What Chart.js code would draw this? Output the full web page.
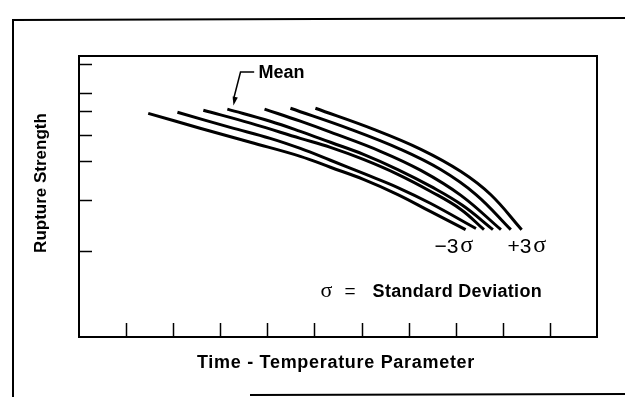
<!DOCTYPE html>
<html>
<head>
<meta charset="utf-8">
<script src="https://cdn.jsdelivr.net/npm/chart.js@4.4.0/dist/chart.umd.min.js"></script>
<style>
  html, body { margin: 0; padding: 0; background: #fff; }
  canvas { display: block; }
</style>
</head>
<body>
<canvas id="chart" width="625" height="397"></canvas>
<script>
// curves from -3 sigma (left) to +3 sigma (right)
const curveNames = ["-3σ", "-2σ", "-1σ", "Mean", "+1σ", "+2σ", "+3σ"];
const c1x = [1.47, 2.57, 3.64, 4.70, 5.34, 6.04, 6.77, 7.47, 8.21];
const c1y = [79.6, 74.3, 69.3, 64.3, 60.4, 56.1, 50.7, 44.6, 38.2];
const c2x = [2.09, 3.21, 4.06, 4.70, 5.34, 6.04, 6.77, 7.47, 8.43];
const c2y = [80.0, 74.6, 70.7, 67.1, 62.9, 58.2, 53.2, 47.5, 38.6];
const c3x = [2.64, 3.64, 4.70, 5.34, 6.04, 6.77, 7.47, 8.11, 8.60];
const c3y = [80.7, 76.1, 70.7, 67.5, 63.2, 57.9, 51.8, 45.4, 38.2];
const c4x = [3.15, 4.06, 4.70, 5.34, 6.04, 6.77, 7.47, 8.15, 8.79];
const c4y = [81.1, 76.8, 73.2, 69.3, 65.0, 59.6, 53.6, 46.8, 38.2];
const c5x = [3.94, 4.70, 5.34, 6.40, 7.26, 8.11, 8.96];
const c5y = [81.1, 76.8, 72.9, 66.1, 59.3, 50.4, 38.2];
const c6x = [4.49, 5.77, 6.83, 7.68, 8.43, 9.17];
const c6y = [81.4, 73.9, 66.8, 59.6, 50.7, 38.2];
const c7x = [5.02, 6.26, 7.26, 8.11, 8.74, 9.40];
const c7y = [81.4, 73.9, 66.8, 58.9, 50.7, 38.2];

// tick marks (no labels in the original)
const xTicks = [1, 2, 3, 4, 5, 6, 7, 8, 9, 10];
const yTicks = [30.7, 48.9, 62.5, 71.8, 80.4, 86.8, 97.1];

const curvesX = [c1x, c2x, c3x, c4x, c5x, c6x, c7x];
const curvesY = [c1y, c2y, c3y, c4y, c5y, c6y, c7y];

const SANS = '"Liberation Sans", Arial, sans-serif';
const SERIF = '"Liberation Serif", "Times New Roman", serif';

const decorPlugin = {
    id: "decor",
    beforeDraw(chart) {
        const ctx = chart.ctx;
        ctx.save();
        ctx.fillStyle = "#fff";
        ctx.fillRect(0, 0, chart.width, chart.height);
        ctx.restore();
    },
    afterDraw(chart) {
        const ctx = chart.ctx;
        const a = chart.chartArea;
        const xs = chart.scales.x, ys = chart.scales.y;
        ctx.save();
        ctx.strokeStyle = "#000";
        ctx.lineCap = "butt";

        // outer frame
        ctx.lineWidth = 2;
        ctx.beginPath();
        ctx.moveTo(13, 397);
        ctx.lineTo(13, 20);
        ctx.lineTo(625, 18);
        ctx.stroke();
        ctx.beginPath();
        ctx.moveTo(250, 395);
        ctx.lineTo(625, 394);
        ctx.stroke();

        // plot box
        ctx.lineWidth = 2;
        ctx.strokeRect(a.left, a.top, a.right - a.left, a.bottom - a.top);

        // inward ticks
        ctx.lineWidth = 1.5;
        xTicks.forEach(v => {
            const px = Math.round(xs.getPixelForValue(v)) + 0.5;
            ctx.beginPath();
            ctx.moveTo(px, a.bottom);
            ctx.lineTo(px, a.bottom - 14);
            ctx.stroke();
        });
        yTicks.forEach(v => {
            const py = Math.round(ys.getPixelForValue(v)) + 0.5;
            ctx.beginPath();
            ctx.moveTo(a.left, py);
            ctx.lineTo(a.left + 13, py);
            ctx.stroke();
        });

        // Mean label with arrow
        const mx = xs.getPixelForValue(3.81), my = ys.getPixelForValue(93.9);
        ctx.fillStyle = "#000";
        ctx.font = "bold 18px " + SANS;
        ctx.textBaseline = "middle";
        ctx.textAlign = "left";
        ctx.fillText("Mean", mx, my);
        const s0x = xs.getPixelForValue(3.72), s1x = xs.getPixelForValue(3.43);
        const sy = ys.getPixelForValue(94.3);
        const tipx = xs.getPixelForValue(3.28), tipy = ys.getPixelForValue(82.4);
        ctx.lineWidth = 1.5;
        ctx.beginPath();
        ctx.moveTo(s0x, sy);
        ctx.lineTo(s1x, sy);
        ctx.lineTo(tipx, tipy - 6);
        ctx.stroke();
        const ang = Math.atan2(tipy - sy, tipx - s1x);
        ctx.beginPath();
        ctx.moveTo(tipx, tipy);
        ctx.lineTo(tipx - 9 * Math.cos(ang - 0.3), tipy - 9 * Math.sin(ang - 0.3));
        ctx.lineTo(tipx - 9 * Math.cos(ang + 0.3), tipy - 9 * Math.sin(ang + 0.3));
        ctx.closePath();
        ctx.fill();

        // sigma labels
        function sigmaLabel(txt, cx, cy) {
            ctx.font = "21px " + SANS;
            const w1 = ctx.measureText(txt).width + 2;
            ctx.font = "24px " + SERIF;
            const w2 = ctx.measureText("σ").width;
            let x0 = cx - (w1 + w2) / 2;
            ctx.textAlign = "left";
            ctx.font = "21px " + SANS;
            ctx.fillText(txt, x0, cy);
            ctx.font = "24px " + SERIF;
            ctx.fillText("σ", x0 + w1, cy - 1);
        }
        sigmaLabel("\u22123", xs.getPixelForValue(7.96), ys.getPixelForValue(32.1));
        sigmaLabel("+3", xs.getPixelForValue(9.51), ys.getPixelForValue(32.1));

        // legend note
        const nx = xs.getPixelForValue(5.13), ny = ys.getPixelForValue(16.1);
        ctx.font = "22px " + SERIF;
        ctx.fillText("σ", nx, ny - 1);
        ctx.font = "19px " + SANS;
        ctx.fillText("=", nx + 24, ny);
        ctx.font = "bold 18px " + SANS;
        ctx.letterSpacing = "0.3px";
        ctx.fillText("Standard Deviation", nx + 52, ny);

        // axis titles
        ctx.textAlign = "center";
        ctx.font = "bold 18px " + SANS;
        ctx.letterSpacing = "0.7px";
        ctx.fillText("Time - Temperature Parameter", 336, 363);
        ctx.letterSpacing = "0px";
        ctx.font = "bold 17px " + SANS;
        ctx.save();
        ctx.translate(41, 183);
        ctx.rotate(-Math.PI / 2);
        ctx.fillText("Rupture Strength", 0, 0);
        ctx.restore();

        ctx.restore();
    }
};

new Chart(document.getElementById("chart"), {
    type: "line",
    data: {
        datasets: curvesX.map((xsArr, i) => ({
            label: curveNames[i],
            data: xsArr.map((x, j) => ({ x: x, y: curvesY[i][j] })),
            borderColor: "#000",
            borderWidth: 3,
            pointRadius: 0,
            tension: 0.4,
            fill: false
        }))
    },
    options: {
        responsive: false,
        animation: false,
        layout: { padding: { left: 79, top: 56, right: 28, bottom: 60 } },
        plugins: {
            legend: { display: false },
            tooltip: { enabled: false }
        },
        scales: {
            x: { type: "linear", min: 0, max: 11, display: false },
            y: { type: "linear", min: 0, max: 100, display: false }
        }
    },
    plugins: [decorPlugin]
});
</script>
</body>
</html>
